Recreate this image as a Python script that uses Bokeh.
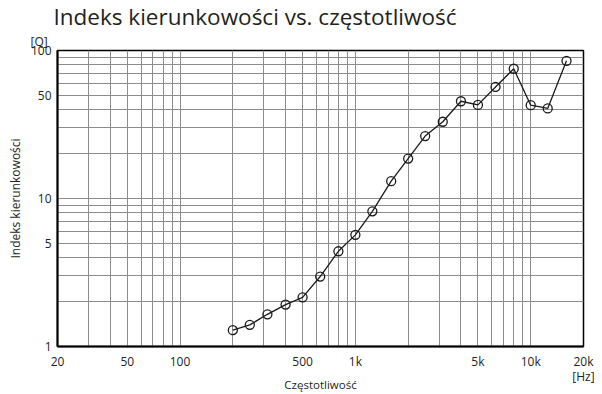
from bokeh.plotting import figure
from bokeh.models import FixedTicker, Range1d, LogAxis, Title
from bokeh.embed import file_html
from bokeh.resources import INLINE

# ---- data ----
freq_hz = [200, 250, 315, 400, 500, 630, 800, 1000, 1250, 1600,
           2000, 2500, 3150, 4000, 5000, 6300, 8000, 10000, 12500, 16000]
q_index = [1.29, 1.40, 1.65, 1.92, 2.15, 2.97, 4.40, 5.68, 8.19, 13.1,
           18.6, 26.4, 33.0, 45.4, 42.9, 56.7, 75.3, 42.7, 40.6, 85.2]

x_tick_values = [20, 50, 100, 500, 1000, 5000, 10000, 20000]
x_tick_labels = ["20", "50", "100", "500", "1k", "5k", "10k", "20k"]
y_tick_values = [1, 5, 10, 50, 100]
y_tick_labels = ["1", "5", "10", "50", "100"]
x_grid_values = [30, 40, 50, 60, 70, 80, 90, 100,
                 200, 300, 400, 500, 600, 700, 800, 900, 1000,
                 2000, 3000, 4000, 5000, 6000, 7000, 8000, 9000, 10000]
y_grid_values = [2, 3, 4, 5, 6, 7, 8, 9, 10,
                 20, 30, 40, 50, 60, 70, 80, 90]

title_text = "Indeks kierunkowości vs. częstotliwość"
x_label = "Częstotliwość"
y_label = "Indeks kierunkowości"
x_unit = "[Hz]"
y_unit = "[Q]"

FONT = "Open Sans"
TXT = "#231f20"
GRID = "#8c8c8c"

x_lo, x_hi = 20, 20000
y_lo, y_hi = 1, 100

p = figure(width=602, height=394,
           x_axis_type="log", y_axis_type="log",
           x_range=Range1d(x_lo, x_hi), y_range=Range1d(y_lo, y_hi),
           output_backend="svg", toolbar_location=None,
           title_location=None,
           min_border_left=57, min_border_right=19,
           min_border_top=50, min_border_bottom=46)

p.background_fill_color = "white"
p.border_fill_color = "white"
p.outline_line_color = "black"
p.outline_line_width = 1.5

# above the frame: unit of the y axis (nearest the frame), then the title
p.add_layout(Title(text=y_unit, align="left", offset=-27, standoff=2,
                   text_font=FONT, text_font_size="12px",
                   text_font_style="normal", text_color=TXT), "above")
p.add_layout(Title(text=title_text, align="left", offset=-4, standoff=-4,
                   text_font=FONT, text_font_size="22.5px",
                   text_font_style="normal", text_color=TXT), "above")

# main axes
p.xaxis.ticker = FixedTicker(ticks=x_tick_values, minor_ticks=[])
p.yaxis.ticker = FixedTicker(ticks=y_tick_values, minor_ticks=[])
p.xaxis.major_label_overrides = {float(v): t for v, t in zip(x_tick_values, x_tick_labels)}
p.yaxis.major_label_overrides = {float(v): t for v, t in zip(y_tick_values, y_tick_labels)}

for ax in (p.xaxis, p.yaxis):
    ax.major_tick_line_color = None
    ax.minor_tick_line_color = None
    ax.major_tick_out = 0
    ax.major_tick_in = 0
    ax.minor_tick_out = 0
    ax.minor_tick_in = 0
    ax.axis_line_color = "black"
    ax.axis_line_width = 2
    ax.major_label_text_font = FONT
    ax.major_label_text_font_size = "12px"
    ax.major_label_text_color = TXT
    ax.major_label_standoff = 6
    ax.axis_label_text_font = FONT
    ax.axis_label_text_font_style = "normal"
    ax.axis_label_text_color = TXT

p.yaxis.axis_label = y_label
p.yaxis.axis_label_text_font_size = "12px"
p.yaxis.axis_label_standoff = 4

# second row under the x axis: "[Hz]" at the 20k end and the axis title
x_title_axis = LogAxis(ticker=FixedTicker(ticks=[x_hi], minor_ticks=[]),
                       major_label_overrides={float(x_hi): x_unit},
                       axis_line_color=None, major_tick_line_color=None,
                       minor_tick_line_color=None,
                       major_tick_out=0, major_tick_in=0,
                       minor_tick_out=0, minor_tick_in=0,
                       major_label_standoff=-5,
                       major_label_text_font=FONT,
                       major_label_text_font_size="12px",
                       major_label_text_color=TXT,
                       axis_label=x_label,
                       axis_label_standoff=-11,
                       axis_label_text_font=FONT,
                       axis_label_text_font_size="11.5px",
                       axis_label_text_font_style="normal",
                       axis_label_text_color=TXT)
p.add_layout(x_title_axis, "below")

# grid
p.xgrid.ticker = FixedTicker(ticks=x_grid_values)
p.ygrid.ticker = FixedTicker(ticks=y_grid_values)
for g in (p.xgrid, p.ygrid):
    g.grid_line_color = GRID
    g.grid_line_width = 1
    g.grid_line_alpha = 1

# series
p.line(freq_hz, q_index, line_color="#1a1a1a", line_width=1.3)
p.scatter(freq_hz, q_index, marker="circle", size=9,
          fill_color=None, line_color="#1a1a1a", line_width=1.3)

open("out.html", "w").write(file_html(p, INLINE))
